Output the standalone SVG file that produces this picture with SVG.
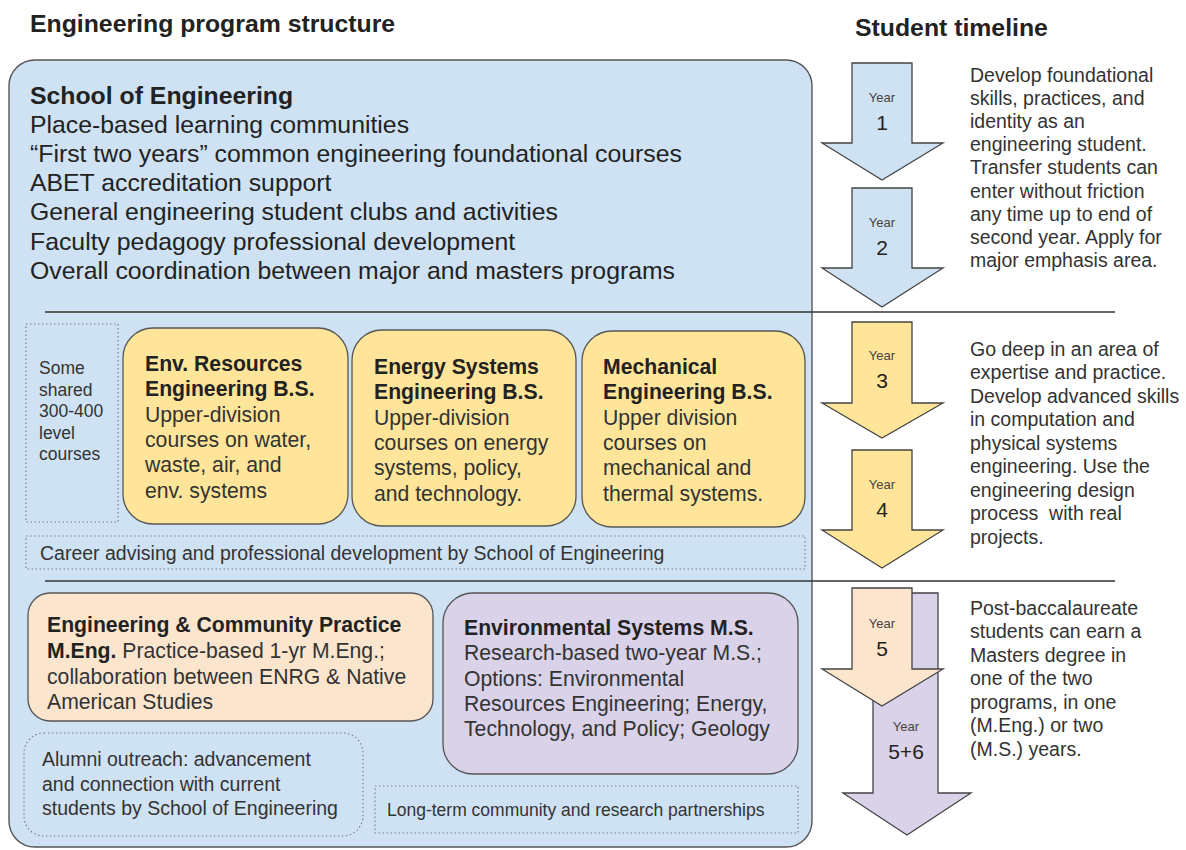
<svg xmlns="http://www.w3.org/2000/svg" width="1186" height="850" viewBox="0 0 1186 850">
<style>
text{font-family:"Liberation Sans",Arial,sans-serif;fill:#222;}
.h{font-size:24.8px;font-weight:bold;}
.main{font-size:24.8px;}
.b21{font-size:21.2px;font-weight:bold;}
.n21{font-size:21.2px;fill:#333;}
.side{font-size:19.5px;fill:#333;}
.sm{font-size:17.5px;fill:#333;}
.dot{fill:none;stroke:#7f7f7f;stroke-width:1.2;stroke-dasharray:1.5 2.5;}
.yel{fill:#ffe599;stroke:#555;stroke-width:1.3;}
.arrow{stroke:#444;stroke-width:1.3;}
.yr{font-size:13px;fill:#444;text-anchor:middle;}
.num{font-size:21px;fill:#222;text-anchor:middle;}
.pre{white-space:pre;}
</style>

<text class="h" x="30" y="32">Engineering program structure</text>
<text class="h" x="855" y="36">Student timeline</text>

<g id="school">
<rect x="9" y="60" width="803" height="787" rx="26" ry="26" fill="#cfe2f3" stroke="#555" stroke-width="1.4"/>
<text class="h" x="30" y="104">School of Engineering</text>
<text class="main" x="30" y="133">Place-based learning communities</text>
<text class="main" x="30" y="162">“First two years” common engineering foundational courses</text>
<text class="main" x="30" y="191">ABET accreditation support</text>
<text class="main" x="30" y="220">General engineering student clubs and activities</text>
<text class="main" x="30" y="250">Faculty pedagogy professional development</text>
<text class="main" x="30" y="279">Overall coordination between major and masters programs</text>
</g>

<g id="separators">
<line x1="45" y1="312" x2="1115" y2="312" stroke="#333" stroke-width="1.3"/>
<line x1="45" y1="581" x2="1115" y2="581" stroke="#333" stroke-width="1.3"/>
</g>

<g id="shared-courses">
<rect class="dot" x="26" y="324" width="92" height="198"/>
<text class="sm" x="39" y="374">Some</text>
<text class="sm" x="39" y="396">shared</text>
<text class="sm" x="39" y="417">300-400</text>
<text class="sm" x="39" y="439">level</text>
<text class="sm" x="39" y="460">courses</text>
</g>

<g id="env-resources-bs">
<rect class="yel" x="123" y="328" width="225" height="196" rx="30" ry="30"/>
<text class="b21" x="145" y="371">Env. Resources</text>
<text class="b21" x="145" y="396">Engineering B.S.</text>
<text class="n21" x="145" y="422">Upper-division</text>
<text class="n21" x="145" y="447">courses on water,</text>
<text class="n21" x="145" y="472">waste, air, and</text>
<text class="n21" x="145" y="498">env. systems</text>
</g>

<g id="energy-systems-bs">
<rect class="yel" x="352" y="330" width="224" height="196" rx="30" ry="30"/>
<text class="b21" x="374" y="374">Energy Systems</text>
<text class="b21" x="374" y="399">Engineering B.S.</text>
<text class="n21" x="374" y="425">Upper-division</text>
<text class="n21" x="374" y="450">courses on energy</text>
<text class="n21" x="374" y="475">systems, policy,</text>
<text class="n21" x="374" y="501">and technology.</text>
</g>

<g id="mechanical-bs">
<rect class="yel" x="582" y="331" width="223" height="196" rx="30" ry="30"/>
<text class="b21" x="603" y="374">Mechanical</text>
<text class="b21" x="603" y="399">Engineering B.S.</text>
<text class="n21" x="603" y="425">Upper division</text>
<text class="n21" x="603" y="450">courses on</text>
<text class="n21" x="603" y="475">mechanical and</text>
<text class="n21" x="603" y="501">thermal systems.</text>
</g>

<g id="career-advising">
<rect class="dot" x="26" y="536" width="779" height="33"/>
<text class="side" x="40" y="560">Career advising and professional development by School of Engineering</text>
</g>

<g id="meng">
<rect x="28" y="593" width="405" height="128" rx="22" ry="22" fill="#fce5cd" stroke="#555" stroke-width="1.3"/>
<text class="b21" x="47" y="632">Engineering &amp; Community Practice</text>
<text class="n21" x="47" y="658"><tspan style="font-weight:bold;fill:#222">M.Eng.</tspan> Practice-based 1-yr M.Eng.;</text>
<text class="n21" x="47" y="684">collaboration between ENRG &amp; Native</text>
<text class="n21" x="47" y="709">American Studies</text>
</g>

<g id="env-systems-ms">
<rect x="443" y="593" width="355" height="181" rx="30" ry="30" fill="#d9d2e9" stroke="#555" stroke-width="1.3"/>
<text class="b21" x="464" y="635">Environmental Systems M.S.</text>
<text class="n21" x="464" y="660">Research-based two-year M.S.;</text>
<text class="n21" x="464" y="686">Options: Environmental</text>
<text class="n21" x="464" y="711">Resources Engineering; Energy,</text>
<text class="n21" x="464" y="736">Technology, and Policy; Geology</text>
</g>

<g id="alumni-outreach">
<rect class="dot" x="24" y="733" width="339" height="103" rx="20" ry="20"/>
<text class="side" x="42" y="766">Alumni outreach: advancement</text>
<text class="side" x="42" y="791">and connection with current</text>
<text class="side" x="42" y="815">students by School of Engineering</text>
</g>

<g id="partnerships">
<rect class="dot" x="375" y="786" width="423" height="47"/>
<text class="sm" x="387" y="816">Long-term community and research partnerships</text>
</g>

<g id="year1">
<polygon class="arrow" fill="#cfe2f3" points="852,63 912,63 912,143 943,143 882,180 822,143 852,143"/>
<text class="yr" x="882" y="102">Year</text>
<text class="num" x="882" y="130">1</text>
</g>
<g id="year2">
<polygon class="arrow" fill="#cfe2f3" points="852,188 912,188 912,268 943,268 882,307 822,268 852,268"/>
<text class="yr" x="882" y="227">Year</text>
<text class="num" x="882" y="255">2</text>
</g>
<g id="year3">
<polygon class="arrow" fill="#ffe599" points="852,322 912,322 912,403 943,403 882,438 822,403 852,403"/>
<text class="yr" x="882" y="360">Year</text>
<text class="num" x="882" y="388">3</text>
</g>
<g id="year4">
<polygon class="arrow" fill="#ffe599" points="852,450 912,450 912,530 943,530 882,568 822,530 852,530"/>
<text class="yr" x="882" y="489">Year</text>
<text class="num" x="882" y="517">4</text>
</g>
<g id="year5-6">
<polygon class="arrow" fill="#d9d2e9" points="873,593 938,593 938,793 971,793 907,835 843,793 873,793"/>
<text class="yr" x="906" y="731">Year</text>
<text class="num" x="906" y="759">5+6</text>
</g>
<g id="year5">
<polygon class="arrow" fill="#fce5cd" points="852,588 912,588 912,669 943,669 882,706 822,669 852,669"/>
<text class="yr" x="882" y="628">Year</text>
<text class="num" x="882" y="656">5</text>
</g>

<g id="timeline-notes-1">
<text class="side" x="970" y="82">Develop foundational</text>
<text class="side" x="970" y="105">skills, practices, and</text>
<text class="side" x="970" y="128">identity as an</text>
<text class="side" x="970" y="151">engineering student.</text>
<text class="side" x="970" y="174">Transfer students can</text>
<text class="side" x="970" y="198">enter without friction</text>
<text class="side" x="970" y="221">any time up to end of</text>
<text class="side" x="970" y="244">second year. Apply for</text>
<text class="side" x="970" y="267">major emphasis area.</text>
</g>
<g id="timeline-notes-2">
<text class="side" x="970" y="356">Go deep in an area of</text>
<text class="side" x="970" y="379">expertise and practice.</text>
<text class="side" x="970" y="403">Develop advanced skills</text>
<text class="side" x="970" y="426">in computation and</text>
<text class="side" x="970" y="450">physical systems</text>
<text class="side" x="970" y="473">engineering. Use the</text>
<text class="side" x="970" y="497">engineering design</text>
<text class="side pre" x="970" y="520">process  with real</text>
<text class="side" x="970" y="544">projects.</text>
</g>
<g id="timeline-notes-3">
<text class="side" x="970" y="615">Post-baccalaureate</text>
<text class="side" x="970" y="638">students can earn a</text>
<text class="side" x="970" y="662">Masters degree in</text>
<text class="side" x="970" y="685">one of the two</text>
<text class="side" x="970" y="709">programs, in one</text>
<text class="side" x="970" y="732">(M.Eng.) or two</text>
<text class="side" x="970" y="756">(M.S.) years.</text>
</g>
</svg>
